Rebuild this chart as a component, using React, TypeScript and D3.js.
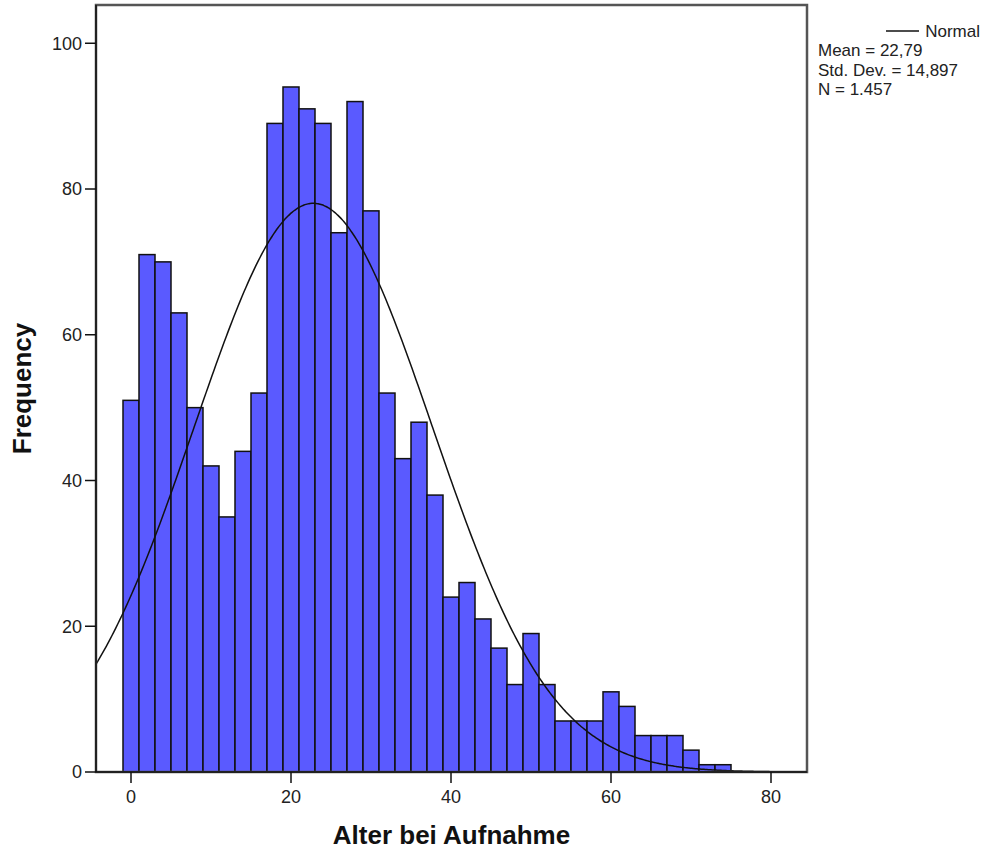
import React from "react";
import * as d3 from "d3";

// histogram bins (center of each 2-year bin) and counts
const binCenters = [0, 2, 4, 6, 8, 10, 12, 14, 16, 18, 20, 22, 24, 26, 28, 30, 32, 34, 36, 38,
    40, 42, 44, 46, 48, 50, 52, 54, 56, 58, 60, 62, 64, 66, 68, 70, 72, 74];
const frequencies = [51, 71, 70, 63, 50, 42, 35, 44, 52, 89, 94, 91, 89, 74, 92, 77, 52, 43, 48, 38,
    24, 26, 21, 17, 12, 19, 12, 7, 7, 7, 11, 9, 5, 5, 5, 3, 1, 1];
const binWidth = 2;

const xTicks = [0, 20, 40, 60, 80];
const yTicks = [0, 20, 40, 60, 80, 100];

const stats = { mean: 22.79, sd: 14.897, n: 1457 };
const legendLines = ["Mean = 22,79", "Std. Dev. = 14,897", "N = 1.457"];

const W = 984;
const H = 851;
const left = 96, right = 807, top = 5, bottom = 772;

const App = () => {
    const x = d3.scaleLinear().domain([-4.375, 84.5]).range([left, right]);
    const y = d3.scaleLinear().domain([0, 105.25]).range([bottom, top]);

    // normal curve scaled to counts per bin
    const dens = (v: number) =>
        (stats.n * binWidth) / (stats.sd * Math.sqrt(2 * Math.PI)) *
        Math.exp(-0.5 * Math.pow((v - stats.mean) / stats.sd, 2));
    const curvePts = d3.range(-4.375, 84.5001, 0.25).map(v => [v, dens(v)] as [number, number]);
    const line = d3.line<[number, number]>()
        .x(d => x(d[0]))
        .y(d => y(d[1]))
        .curve(d3.curveMonotoneX);

    const font = "'Liberation Sans', Arial, sans-serif";

    return (
        <svg width={W} height={H} style={{ position: "absolute", left: 0, top: 0, background: "#fff" }}>
            <rect x={0} y={0} width={W} height={H} fill="#fff" />
            {/* bars */}
            {binCenters.map((c, i) => (
                <rect
                    key={i}
                    x={x(c - binWidth / 2)}
                    y={y(frequencies[i])}
                    width={x(c + binWidth / 2) - x(c - binWidth / 2)}
                    height={y(0) - y(frequencies[i])}
                    fill="#5a5aff"
                    stroke="#111"
                    strokeWidth={1.5}
                />
            ))}
            <path d={line(curvePts) || ""} fill="none" stroke="#111" strokeWidth={1.5} />

            {/* frame */}
            <rect x={left} y={top} width={right - left} height={bottom - top} fill="none" stroke="#555" strokeWidth={2.5} />
            <line x1={left} x2={left} y1={top} y2={bottom} stroke="#111" strokeWidth={1.5} />
            <line x1={left} x2={right} y1={bottom} y2={bottom} stroke="#111" strokeWidth={1.5} />

            {/* y axis */}
            {yTicks.map(t => (
                <g key={t}>
                    <line x1={left - 11} x2={left} y1={y(t)} y2={y(t)} stroke="#111" strokeWidth={1.5} />
                    <text x={left - 14} y={y(t)} dy="0.35em" textAnchor="end" fontFamily={font} fontSize={18} fill="#222">{t}</text>
                </g>
            ))}
            {/* x axis */}
            {xTicks.map(t => (
                <g key={t}>
                    <line x1={x(t)} x2={x(t)} y1={bottom} y2={bottom + 11} stroke="#111" strokeWidth={1.5} />
                    <text x={x(t)} y={803} textAnchor="middle" fontFamily={font} fontSize={18} fill="#222">{t}</text>
                </g>
            ))}

            <text x={(left + right) / 2} y={844} textAnchor="middle" fontFamily={font} fontSize={26} fontWeight="bold" fill="#111">Alter bei Aufnahme</text>
            <text transform={`translate(31,${(top + bottom) / 2}) rotate(-90)`} textAnchor="middle" fontFamily={font} fontSize={26} fontWeight="bold" fill="#111">Frequency</text>

            {/* legend */}
            <line x1={886} x2={919} y1={31} y2={31} stroke="#111" strokeWidth={1.5} />
            <text x={980} y={37} textAnchor="end" fontFamily={font} fontSize={17} fill="#222">Normal</text>
            {legendLines.map((s, i) => (
                <text key={s} x={818} y={56 + i * 19.5} fontFamily={font} fontSize={17} fill="#222">{s}</text>
            ))}
        </svg>
    );
};

export default App;
